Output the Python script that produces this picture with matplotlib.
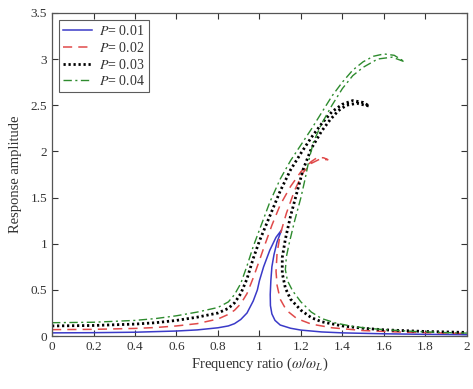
import matplotlib
matplotlib.use("Agg")
import matplotlib.pyplot as plt

plt.rcParams['font.family'] = ['Liberation Serif', 'DejaVu Serif']
plt.rcParams['mathtext.fontset'] = 'stix'

# Frequency-response curves: each traced from x=0 up the left branch to the
# turning point, then back down the right branch to x=2.
p_labels = ["0.01", "0.02", "0.03", "0.04"]

p01_x = [0, 0.2, 0.4, 0.6, 0.7, 0.8, 0.85, 0.88, 0.91, 0.94, 0.97, 0.99, 1.0, 1.02,
         1.05, 1.08, 1.107,
         1.085, 1.07, 1.06, 1.055, 1.052, 1.053, 1.06, 1.075, 1.1, 1.15, 1.2, 1.3,
         1.4, 1.6, 1.8, 2.0]
p01_y = [0.035, 0.037, 0.042, 0.055, 0.067, 0.09, 0.11, 0.135, 0.18, 0.25, 0.38,
         0.5, 0.6, 0.75, 0.93, 1.07, 1.15,
         1.02, 0.88, 0.75, 0.6, 0.45, 0.33, 0.24, 0.17, 0.12, 0.085, 0.065, 0.045,
         0.035, 0.025, 0.019, 0.015]

p02_x = [0, 0.2, 0.4, 0.5, 0.6, 0.7, 0.8, 0.85, 0.88, 0.91, 0.94, 0.97, 1.0, 1.02,
         1.06, 1.1, 1.15, 1.2, 1.25, 1.28, 1.31, 1.33,
         1.29, 1.25, 1.21, 1.17, 1.13, 1.1, 1.085, 1.08, 1.085, 1.1, 1.13, 1.18,
         1.25, 1.35, 1.5, 1.7, 2.0]
p02_y = [0.07, 0.073, 0.083, 0.093, 0.11, 0.135, 0.185, 0.235, 0.28, 0.35, 0.46,
         0.63, 0.82, 0.95, 1.2, 1.42, 1.62, 1.78, 1.89, 1.935, 1.93, 1.91,
         1.915, 1.87, 1.77, 1.58, 1.33, 1.1, 0.9, 0.7, 0.55, 0.4, 0.28, 0.19,
         0.13, 0.09, 0.06, 0.042, 0.028]

p03_x = [0, 0.2, 0.4, 0.5, 0.6, 0.7, 0.8, 0.85, 0.88, 0.91, 0.94, 0.97, 1.0, 1.05,
         1.1, 1.15, 1.2, 1.25, 1.3, 1.35, 1.4, 1.45, 1.5, 1.53,
         1.47, 1.42, 1.38, 1.34, 1.3, 1.25, 1.21, 1.18, 1.15, 1.125, 1.11, 1.11,
         1.125, 1.15, 1.2, 1.25, 1.3, 1.4, 1.5, 1.6, 1.8, 2.0]
p03_y = [0.11, 0.115, 0.13, 0.145, 0.17, 0.205, 0.25, 0.3, 0.36, 0.46, 0.62, 0.84,
         1.03, 1.3, 1.57, 1.8, 1.98, 2.15, 2.3, 2.43, 2.51, 2.55, 2.53, 2.49,
         2.52, 2.5, 2.44, 2.34, 2.22, 2.03, 1.8, 1.55, 1.3, 1.05, 0.85, 0.68,
         0.52, 0.4, 0.28, 0.2, 0.155, 0.11, 0.085, 0.068, 0.05, 0.04]

p04_x = [0, 0.2, 0.4, 0.5, 0.6, 0.7, 0.8, 0.85, 0.88, 0.91, 0.94, 0.97, 1.0, 1.05,
         1.1, 1.15, 1.2, 1.25, 1.3, 1.35, 1.4, 1.45, 1.5, 1.55, 1.6, 1.65, 1.7,
         1.64, 1.57, 1.5, 1.45, 1.4, 1.35, 1.3, 1.26, 1.24, 1.22, 1.2, 1.17, 1.145,
         1.13, 1.125, 1.135, 1.16, 1.2, 1.25, 1.3, 1.37, 1.45, 1.52, 1.6, 1.75, 1.9,
         2.0]
p04_y = [0.145, 0.15, 0.17, 0.19, 0.22, 0.26, 0.31, 0.37, 0.45, 0.57, 0.76, 0.97,
         1.15, 1.45, 1.7, 1.9, 2.07, 2.24, 2.42, 2.6, 2.75, 2.88, 2.97, 3.03, 3.055,
         3.04, 2.97,
         3.02, 3.0, 2.91, 2.82, 2.68, 2.5, 2.3, 2.1, 1.92, 1.7, 1.5, 1.25, 1.02,
         0.86, 0.72, 0.6, 0.49, 0.37, 0.26, 0.19, 0.14, 0.105, 0.085, 0.07, 0.05,
         0.038, 0.032]

x_ticks = [0, 0.2, 0.4, 0.6, 0.8, 1, 1.2, 1.4, 1.6, 1.8, 2]
x_tick_labels = ["0", "0.2", "0.4", "0.6", "0.8", "1", "1.2", "1.4", "1.6", "1.8", "2"]
y_ticks = [0, 0.5, 1, 1.5, 2, 2.5, 3, 3.5]
y_tick_labels = ["0", "0.5", "1", "1.5", "2", "2.5", "3", "3.5"]

fig = plt.figure(figsize=(4.73, 3.89), dpi=100)
ax = fig.add_axes([0.110, 0.136, 0.877, 0.831])

ax.plot(p01_x, p01_y, color='#3a3ac8', lw=1.1, ls='-',
        label=r"$P$= " + p_labels[0])
ax.plot(p02_x, p02_y, color='#e04a4a', lw=1.1, ls=(0, (6, 4)),
        label=r"$P$= " + p_labels[1])
ax.plot(p03_x, p03_y, color='black', lw=2.0, ls=(0, (0.8, 1.0)),
        label=r"$P$= " + p_labels[2])
ax.plot(p04_x, p04_y, color='#2e8b2e', lw=1.0, ls=(0, (6, 2.5, 1.5, 2.5)),
        label=r"$P$= " + p_labels[3])

ax.set_xlim(0, 2)
ax.set_ylim(0, 3.5)
ax.set_xticks(x_ticks)
ax.set_xticklabels(x_tick_labels)
ax.set_yticks(y_ticks)
ax.set_yticklabels(y_tick_labels)
ax.tick_params(direction='in', top=True, right=True, labelsize=9.5,
               length=4, width=0.8, colors='#333333', labelcolor='#333333')
for s in ax.spines.values():
    s.set_color('#555555')
    s.set_linewidth(0.9)

ax.set_xlabel(r"Frequency ratio ($\omega/\omega_L$)", fontsize=10.5, color='#333333',
              labelpad=2)
ax.set_ylabel("Response amplitude", fontsize=10.5, color='#333333', labelpad=6)

leg = ax.legend(loc='upper left', fontsize=10, frameon=True, fancybox=False,
                handlelength=2.1, borderpad=0.3, labelspacing=0.2,
                handletextpad=0.5, borderaxespad=0.5)
leg.get_frame().set_edgecolor('#333333')
leg.get_frame().set_linewidth(0.8)
for t in leg.get_texts():
    t.set_color('#333333')

fig.savefig("out.png", dpi=100)
